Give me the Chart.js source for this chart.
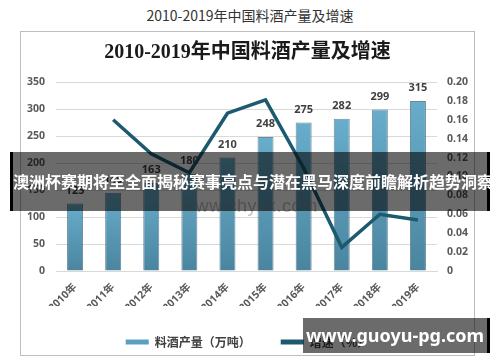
<!DOCTYPE html>
<html>
<head>
<meta charset="utf-8">
<script src="https://cdn.jsdelivr.net/npm/chart.js@4.4.0/dist/chart.umd.min.js"></script>
<style>
  body { margin: 0; background: #fff; font-family: "Noto Sans CJK SC", sans-serif; }
  #pagina { position: relative; width: 500px; height: 362px; overflow: hidden; background: #fff; }
  #titulo-fora { position: absolute; left: 0; top: 4px; width: 500px; text-align: center; font-size: 14px; color: #333; line-height: 22px; }
  #moldura { position: absolute; left: 20px; top: 31px; width: 453px; height: 323px; border: 1px solid #bdbdbd; pointer-events: none; z-index: 2; }
  #grafico { position: absolute; left: 21px; top: 32px; }
  #marca-fundo { position: absolute; left: 182px; top: 197px; font-family: "Liberation Sans", sans-serif; font-size: 18px; line-height: 18px; color: rgba(140,140,140,0.55); letter-spacing: 0.6px; z-index: 1; }
  #faixa { position: absolute; left: 10px; top: 152px; width: 474px; height: 59px; background: rgba(0,0,0,0.58); border-left: 3px solid #000; border-right: 3px solid #000; color: #fff; font-weight: bold; font-size: 16px; line-height: 59px; text-align: center; white-space: nowrap; z-index: 3; }
  #marca { position: absolute; left: 303px; top: 318px; width: 184px; height: 35px; background: rgba(0,0,0,0.58); border-right: 3px solid #000; color: #fff; font-family: "Noto Sans", sans-serif; font-weight: bold; font-size: 18px; line-height: 35px; text-align: center; z-index: 3; }
</style>
</head>
<body>
<div id="pagina">
  <div id="titulo-fora">2010-2019年中国料酒产量及增速</div>
  <canvas id="grafico" width="453" height="326"></canvas>
  <div id="moldura"></div>
  <div id="marca-fundo">www.chyxx.com</div>
  <div id="faixa">澳洲杯赛期将至全面揭秘赛事亮点与潜在黑马深度前瞻解析趋势洞察</div>
  <div id="marca">www.guoyu-pg.com</div>
</div>
<script>
// dados
var anos = ["2010年", "2011年", "2012年", "2013年", "2014年", "2015年", "2016年", "2017年", "2018年", "2019年"];
var producao = [125, 145, 163, 180, 210, 248, 275, 282, 299, 315];
var crescimento = [null, 0.16, 0.124, 0.104, 0.167, 0.181, 0.109, 0.025, 0.06, 0.054];
var nomeBarra = "料酒产量（万吨）";
var nomeLinha = "增速（%）";

var fonteEixo = { family: "'Noto Sans', 'Noto Sans CJK SC', sans-serif", size: 10.5, weight: "bold" };

// degradê de cada barra, do topo para a base
function corBarra(ctx) {
  var chart = ctx.chart;
  if (!chart.chartArea || ctx.parsed == null) return "#5b9fbf";
  var topo = chart.scales.y.getPixelForValue(ctx.parsed.y);
  var base = chart.scales.y.getPixelForValue(0);
  var g = chart.ctx.createLinearGradient(0, topo, 0, base);
  g.addColorStop(0, "#68adcc");
  g.addColorStop(1, "#4a859f");
  return g;
}

// rótulos em cima das barras
var rotulos = {
  id: "rotulos",
  afterDatasetDraw: function(chart, args) {
    if (args.index !== 0) return;
    var c = chart.ctx;
    c.save();
    c.font = "bold 11px 'Noto Sans', sans-serif";
    c.fillStyle = "#404040";
    c.textAlign = "center";
    c.textBaseline = "middle";
    args.meta.data.forEach(function(el, i) {
      c.fillText(producao[i], el.x, el.y - 13);
    });
    c.restore();
  }
};

var chartGraph = new Chart(document.getElementById("grafico"), {
  data: {
    labels: anos,
    datasets: [{
      type: "bar",
      label: nomeBarra,
      data: producao,
      yAxisID: "y",
      order: 1,
      backgroundColor: corBarra,
      borderColor: "rgba(45,90,110,0.7)",
      borderWidth: 1,
      barPercentage: 0.42,
      categoryPercentage: 1
    }, {
      type: "line",
      label: nomeLinha,
      data: crescimento,
      yAxisID: "y1",
      order: 0,
      borderColor: "#1c5b6f",
      backgroundColor: "#1c5b6f",
      borderWidth: 3.5,
      pointRadius: 0,
      tension: 0
    }]
  },
  options: {
    responsive: false,
    animation: false,
    devicePixelRatio: 1,
    layout: { padding: 0 },
    plugins: {
      title: {
        display: true,
        text: "2010-2019年中国料酒产量及增速",
        color: "#1a1a1a",
        font: { family: "'Liberation Serif', 'Noto Sans CJK SC', serif", size: 20, weight: "bold", lineHeight: 1.2 },
        padding: { top: 9, bottom: 17 }
      },
      legend: {
        position: "bottom",
        labels: {
          boxWidth: 23,
          boxHeight: 5,
          padding: 30,
          color: "#404040",
          font: { family: "'Noto Sans CJK SC', sans-serif", size: 12, weight: "bold" },
          sort: function(a, b) { return a.datasetIndex - b.datasetIndex; },
          generateLabels: function(chart) {
            var itens = Chart.defaults.plugins.legend.labels.generateLabels(chart);
            itens.forEach(function(it) {
              it.fillStyle = it.datasetIndex === 0 ? "#5b9fbf" : "#1c5b6f";
              it.strokeStyle = it.fillStyle;
              it.lineWidth = 0;
            });
            return itens;
          }
        }
      },
      tooltip: { enabled: false }
    },
    scales: {
      x: {
        grid: { display: false },
        border: { color: "#d9d9d9" },
        ticks: { color: "#595959", font: fonteEixo, minRotation: 45, maxRotation: 45, padding: 2 },
        afterFit: function(scale) { scale.height = 35; }
      },
      y: {
        position: "left",
        min: 0,
        max: 350,
        ticks: { stepSize: 50, color: "#595959", font: fonteEixo, padding: 11 },
        grid: { color: "#d9d9d9", drawTicks: false },
        border: { display: false },
        afterFit: function(scale) { scale.width = 35; }
      },
      y1: {
        position: "right",
        min: 0,
        max: 0.2,
        ticks: { stepSize: 0.02, color: "#595959", font: fonteEixo, padding: 10 },
        grid: { display: false, drawTicks: false },
        border: { display: false },
        afterFit: function(scale) { scale.width = 37; }
      }
    }
  },
  plugins: [rotulos]
});
</script>
</body>
</html>
